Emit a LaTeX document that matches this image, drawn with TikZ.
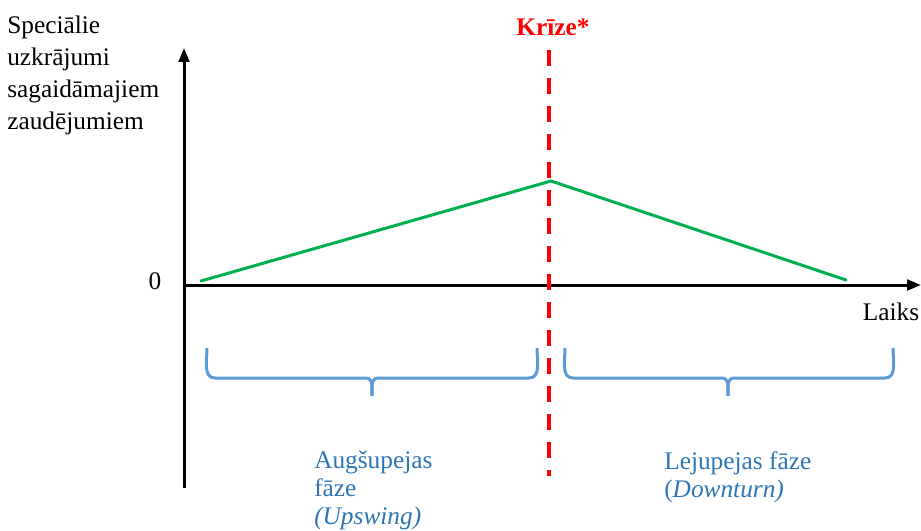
\documentclass[tikz,border=0pt]{standalone}
\usepackage{fontspec}
\setmainfont{Liberation Serif}
\usetikzlibrary{arrows.meta}
\definecolor{krizered}{HTML}{FF0000}
\definecolor{trendgreen}{HTML}{00B050}
\definecolor{braceblue}{HTML}{5B9BD5}
\definecolor{phaseblue}{HTML}{2E75B6}
\def\braceTop{348}
\def\braceMid{378}
\def\braceTip{396}
\tikzset{
  axis/.style    = {line width=2.25pt, -{Triangle[length=10.5pt, width=8pt]}},
  trend/.style   = {trendgreen, line width=2.25pt, line cap=round},
  crisis/.style  = {krizered, line width=3pt, dash pattern=on 12pt off 9pt},
  phasebrace/.style = {braceblue, line width=2.25pt},
  txt/.style     = {inner sep=0pt, font=\fontsize{19}{24}\selectfont},
  phase/.style   = {txt, phaseblue, align=left, anchor=north west,
                    font=\fontsize{19}{21}\selectfont},
}
% one curly brace, opening upwards, tip pointing down at x = #2
\newcommand{\phaseBrace}[3]{%
  \draw[phasebrace] (#1,\braceTop) to[out=-90,in=180] ($(#1,\braceMid)+(8,0)$)
    -- ($(#2,\braceMid)+(-6,0)$) to[out=0,in=90] (#2,\braceTip);
  \draw[phasebrace] (#2,\braceTip) to[out=90,in=180] ($(#2,\braceMid)+(6,0)$)
    -- ($(#3,\braceMid)+(-8,0)$) to[out=0,in=-90] (#3,\braceTop);
}
\usetikzlibrary{calc}
\begin{document}
\begin{tikzpicture}[x=0.75pt, y=-0.75pt]
  \useasboundingbox (0,0) rectangle (921,531);

  \coordinate (O) at (184,285);
  \coordinate (yTop) at (184,48);
  \coordinate (yBot) at (184,488);
  \coordinate (xEnd) at (921,285);

  \draw[axis] (yBot) -- (yTop);
  \draw[axis] (O) -- (xEnd);

  \node[txt, align=left, anchor=north west] at (7,16) (ylab)
    {Speciālie\\uzkrājumi\\sagaidāmajiem\\zaudējumiem};
  \node[txt] at (155,281) (zero) {0};
  \node[txt] at (891,312) (laiks) {Laiks};

  % crisis line
  \node[txt, krizered, font=\fontsize{19}{24}\selectfont\bfseries] at (553,27) (krize) {Krīze*};
  \coordinate (cTop) at (549,50);
  \coordinate (cBot) at (549,476);
  \draw[crisis] (cTop) -- (cBot);

  % provisions over the cycle
  \coordinate (gStart) at (201,281);
  \coordinate (gPeak) at (551,181);
  \coordinate (gEnd) at (846,280);
  \draw[trend] (gStart) -- (gPeak) -- (gEnd);

  \phaseBrace{207}{372}{537}
  \phaseBrace{565}{728}{893}

  \node[phase] at (314,451) (augs) {Augšupejas\\fāze\\\textit{(Upswing)}};
  \node[phase] at (664,451) (lejup) {Lejupejas fāze\\(\textit{Downturn)}};
\end{tikzpicture}
\end{document}
